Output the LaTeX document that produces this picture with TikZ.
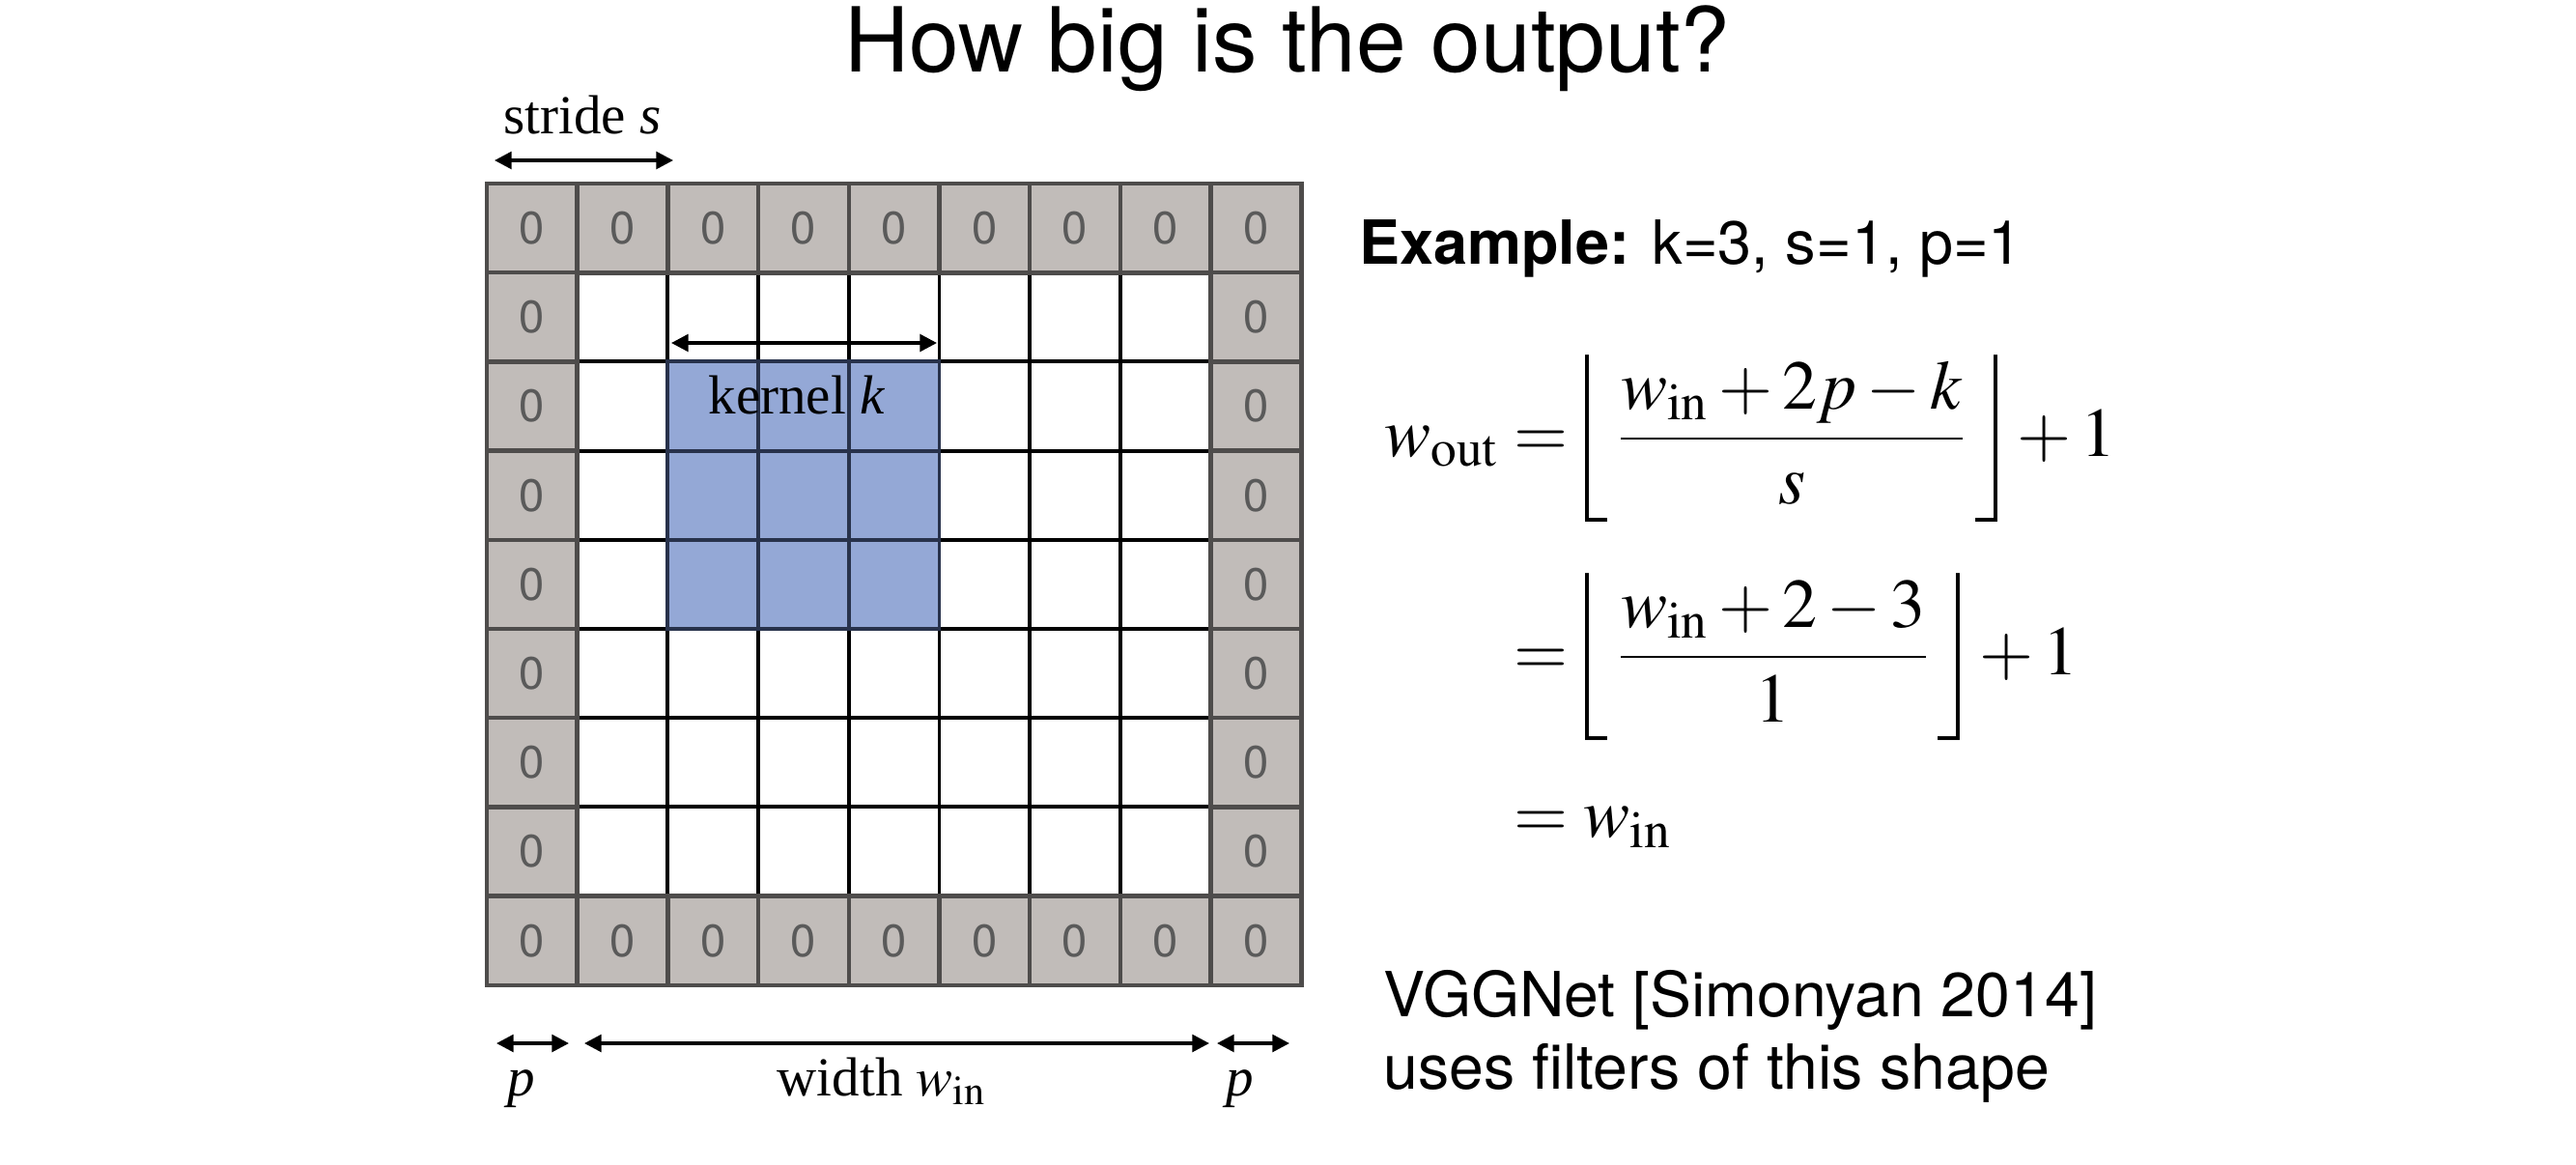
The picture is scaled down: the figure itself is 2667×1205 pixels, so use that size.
\documentclass[tikz,border=0pt]{standalone}
\usepackage{amsmath}
\usepackage{mathptmx}
\usepackage{fontspec}
\setmainfont{Liberation Serif}
\setsansfont{TeX Gyre Heros}
\usetikzlibrary{arrows.meta}
\definecolor{padfill}{RGB}{193,188,185}
\definecolor{padline}{RGB}{78,76,75}
\definecolor{kernfill}{RGB}{148,168,214}
\definecolor{kernline}{RGB}{40,50,75}
\definecolor{zerotext}{RGB}{90,90,90}
\newcommand{\tallfloor}{\rule[-0.94em]{0pt}{2.38em}}

\begin{document}
\begin{tikzpicture}[
  x = 0.01cm, y = -0.01cm,
  cell/.style = {
    draw = black, line width = 1.1pt, fill = white, inner sep = 0pt,
    minimum width = 0.937cm, minimum height = 0.922cm},
  kern/.style = {cell, fill = kernfill, draw = kernline},
  pad/.style = {
    cell, fill = padfill, draw = padline, line width = 1.3pt,
    text = zerotext, font = \sffamily\fontsize{13.4}{14}\selectfont},
  dim/.style = {
    line width = 1pt,
    {Triangle[length=5pt,width=5pt]}-{Triangle[length=5pt,width=5pt]}},
  lbl/.style = {
    inner sep = 0pt, anchor = base,
    font = \fontsize{16.2}{18}\selectfont},
  sans/.style = {
    inner sep = 0pt, anchor = base west,
    font = \sffamily\fontsize{18.3}{21}\selectfont},
  eqn/.style = {
    inner sep = 0pt, anchor = base west,
    font = \fontsize{20.5}{24}\selectfont}
  ]
  \fill [white] (0,0) rectangle (2667,1205);
  \useasboundingbox (0,0) rectangle (2667,1205);

  \node [anchor = base, inner sep = 0pt,
    font = \sffamily\fontsize{26.4}{29}\selectfont]
    (title) at (1333,74) {How big is the output?};

  \foreach \i in {1,...,7}
    \foreach \j in {1,...,7}
      \node [cell] (c\i-\j) at ({550.85+93.7*\i},{236.1+92.2*\j}) {};
  \foreach \i in {2,3,4}
    \foreach \j in {2,3,4}
      \node [kern] (k\i-\j) at ({550.85+93.7*\i},{236.1+92.2*\j}) {};
  \foreach \i in {0,...,8} {
    \node [pad] (top\i) at ({550.85+93.7*\i},236.1) {0};
    \node [pad] (bot\i) at ({550.85+93.7*\i},973.7) {0};
  }
  \foreach \j in {1,...,7} {
    \node [pad] (left\j) at (550.85,{236.1+92.2*\j}) {0};
    \node [pad] (right\j) at (1300.45,{236.1+92.2*\j}) {0};
  }

  \coordinate (stride-a) at (512,166);
  \coordinate (stride-b) at (697,166);
  \coordinate (kernel-a) at (695,355);
  \coordinate (kernel-b) at (970,355);
  \coordinate (padl-a) at (514,1080);
  \coordinate (padl-b) at (589,1080);
  \coordinate (width-a) at (605,1080);
  \coordinate (width-b) at (1252,1080);
  \coordinate (padr-a) at (1260,1080);
  \coordinate (padr-b) at (1335,1080);
  \draw [dim] (stride-a) -- (stride-b);
  \draw [dim] (kernel-a) -- (kernel-b);
  \draw [dim] (padl-a) -- (padl-b);
  \draw [dim] (width-a) -- (width-b);
  \draw [dim] (padr-a) -- (padr-b);

  \node [lbl] (stridelbl) at (603,138) {stride \textit{s}};
  \node [lbl] (kernellbl) at (825,428) {kernel \textit{k}};
  \node [lbl] (plbl-l) at (540,1134) {\textit{p}};
  \node [lbl] (widthlbl) at (913,1134) {width $w_{\mathrm{in}}$};
  \node [lbl] (plbl-r) at (1284,1134) {\textit{p}};

  \node [sans, font = \sffamily\fontsize{17.9}{20}\selectfont]
    (example) at (1407,273) {\textbf{Example:} k=3, s=1, p=1};

  \node [eqn, anchor = base east] (wout) at (1552,472) {$w_{\mathrm{out}}$};
  \node [eqn] (eq1) at (1567,472)
    {$=\!\!\left\lfloor\tallfloor\,\dfrac{w_{\mathrm{in}}+2p-k}{s}\,\right\rfloor\!+1$};
  \node [eqn] (eq2) at (1567,698)
    {$=\!\!\left\lfloor\tallfloor\,\dfrac{w_{\mathrm{in}}+2-3}{1}\,\right\rfloor\!+1$};
  \node [eqn] (eq3) at (1567,866) {$=w_{\mathrm{in}}$};

  \node [sans] (note1) at (1432,1052) {VGGNet [Simonyan 2014]};
  \node [sans] (note2) at (1432,1127) {uses filters of this shape};
\end{tikzpicture}
\end{document}
